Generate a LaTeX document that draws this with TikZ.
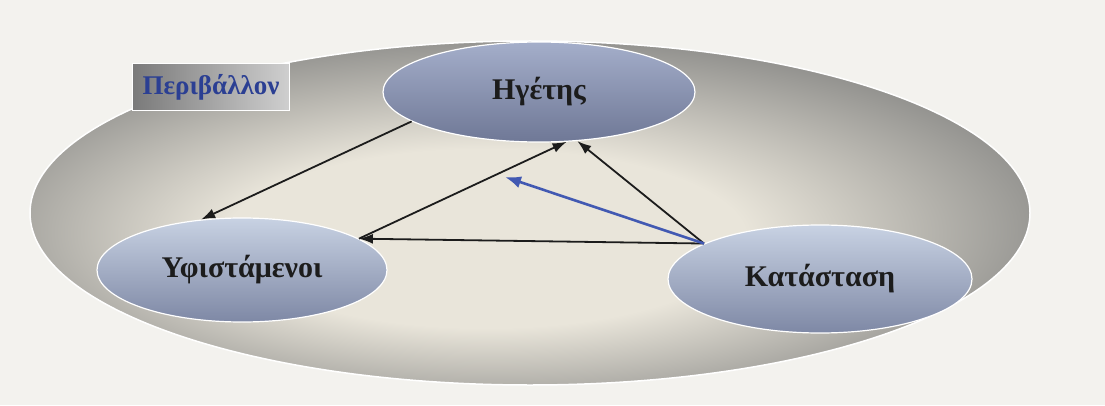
\documentclass[tikz,border=0pt]{standalone}
\usepackage{fontspec}
\setmainfont{Liberation Serif}
\usetikzlibrary{shapes.geometric,arrows.meta}
\definecolor{paper}{HTML}{F3F2EE}
\definecolor{envin}{HTML}{E9E5DA}
\definecolor{envout}{HTML}{858583}
\definecolor{roletop}{HTML}{C8D2E3}
\definecolor{rolebot}{HTML}{7E88A5}
\definecolor{leadtop}{HTML}{A4AECA}
\definecolor{leadbot}{HTML}{6F7896}
\definecolor{ink}{HTML}{1C1C1C}
\definecolor{tagink}{HTML}{2B3F93}
\definecolor{tagdark}{HTML}{7A7A7A}
\definecolor{taglight}{HTML}{CFCFCF}
\definecolor{blue}{HTML}{4259B2}
\pgfdeclareradialshading{envshade}{\pgfpoint{-3bp}{-5bp}}{%
  color(0bp)=(envin); color(13bp)=(envin); color(30bp)=(envout); color(50bp)=(envout)}

\begin{document}
\begin{tikzpicture}[x=1pt,y=1pt,
  role/.style={ellipse,draw=white,line width=1.2pt,text=ink,
    font=\bfseries\fontsize{30}{36}\selectfont,shading angle=20},
  link/.style={-{Latex[length=14pt,width=10pt]},line width=1.8pt,draw=ink}]
  \fill[paper] (0,0) rectangle (1105,405);
  % environment
  \node[ellipse,shading=envshade,draw=white,line width=1.5pt,
    minimum width=1000pt,minimum height=344pt] (env) at (530,192) {};
  \node[draw=white,line width=1pt,left color=tagdark,right color=taglight,
    text=tagink,font=\bfseries\fontsize{27}{32}\selectfont,
    minimum width=157pt,minimum height=47pt] (tag) at (211,318) {Περιβάλλον};
  % the three parts
  \node[role,top color=leadtop,bottom color=leadbot,
    minimum width=312pt,minimum height=100pt] (leader) at (539,313) {Ηγέτης};
  \node[role,top color=roletop,bottom color=rolebot,
    minimum width=290pt,minimum height=104pt] (follow) at (242,135) {Υφιστάμενοι};
  \node[role,top color=roletop,bottom color=rolebot,
    minimum width=304pt,minimum height=108pt] (sit) at (820,126) {Κατάσταση};
  \coordinate (bluetip) at (505,228);
  % links
  \draw[link] (leader.193) -- (follow.129);
  \draw[link] (follow.15) -- (leader.299);
  \draw[link] (sit.163) -- (leader.308);
  \draw[link] (sit.163) -- (follow.15);
  \draw[link,draw=blue,line width=2.6pt,-{Latex[length=16pt,width=12pt]}] (sit.163) -- (bluetip);
\end{tikzpicture}
\end{document}
